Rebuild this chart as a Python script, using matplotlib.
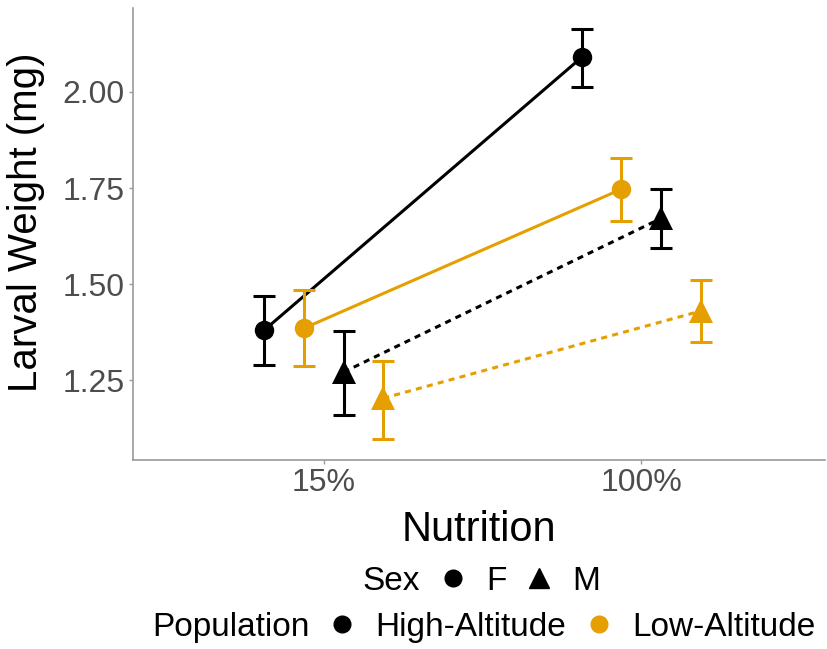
import matplotlib.pyplot as plt
from matplotlib.lines import Line2D

plt.rcParams['font.family'] = ['Liberation Sans', 'DejaVu Sans']

nutrition = ['15%', '100%']
groups = ['High-Altitude F', 'Low-Altitude F', 'High-Altitude M', 'Low-Altitude M']
pops = ['High-Altitude', 'Low-Altitude', 'High-Altitude', 'Low-Altitude']
sexes = ['F', 'F', 'M', 'M']
mean = [[1.380, 2.090], [1.385, 1.747], [1.271, 1.671], [1.203, 1.430]]
lower = [[1.289, 2.014], [1.286, 1.664], [1.159, 1.594], [1.096, 1.349]]
upper = [[1.468, 2.165], [1.484, 1.828], [1.377, 1.748], [1.301, 1.510]]

colors = {'High-Altitude': '#000000', 'Low-Altitude': '#E69F00'}
markers = {'F': 'o', 'M': '^'}
msize = {'F': 14, 'M': 17}
dodge = [-0.1875, -0.0625, 0.0625, 0.1875]

fig = plt.figure(figsize=(8.27, 6.49), dpi=100)
ax = fig.add_axes([0.161, 0.291, 0.837, 0.697])

for i in range(4):
    xs = [1 + dodge[i], 2 + dodge[i]]
    c = colors[pops[i]]
    yerr = [[m - l for m, l in zip(mean[i], lower[i])],
            [u - m for m, u in zip(mean[i], upper[i])]]
    ln, = ax.plot(xs, mean[i], color=c, lw=2.2, zorder=2)
    if sexes[i] == 'M':
        ln.set_dashes((2.0, 1.7))
    ax.errorbar(xs, mean[i], yerr=yerr, fmt='none', ecolor=c, elinewidth=2.2,
                capsize=8, capthick=2.2, zorder=3)
    ax.plot(xs, mean[i], linestyle='none', marker=markers[sexes[i]],
            markersize=msize[sexes[i]], color=c, markeredgewidth=0, zorder=4)

ax.set_xlim(0.4, 2.58)
ax.set_ylim(1.042, 2.219)
ax.set_xticks([1, 2])
ax.set_xticklabels(nutrition)
ax.set_yticks([1.25, 1.5, 1.75, 2.0])
ax.set_yticklabels(['1.25', '1.50', '1.75', '2.00'])
for s in ['top', 'right']:
    ax.spines[s].set_visible(False)
for s in ['left', 'bottom']:
    ax.spines[s].set_color('#9A9A9A')
    ax.spines[s].set_linewidth(1.2)
ax.tick_params(colors='#9A9A9A', length=3, width=1, labelsize=23, labelcolor='#4D4D4D', pad=3)
ax.set_xlabel('Nutrition', fontsize=30, labelpad=8)
ax.set_ylabel('Larval Weight (mg)', fontsize=29)
ax.yaxis.set_label_coords(-0.128, 0.525)

blank = Line2D([], [], linestyle='none')
sex_handles = [blank,
               Line2D([], [], linestyle='none', marker='o', color='k', markersize=12),
               Line2D([], [], linestyle='none', marker='^', color='k', markersize=15)]
leg1 = fig.legend(sex_handles, ['Sex', 'F', 'M'], loc='center', bbox_to_anchor=(0.556, 0.104),
                  ncol=3, frameon=False, fontsize=24, handlelength=0.6, handletextpad=0.69,
                  columnspacing=0.69)
pop_handles = [blank,
               Line2D([], [], linestyle='none', marker='o', color=colors['High-Altitude'], markersize=12),
               Line2D([], [], linestyle='none', marker='o', color=colors['Low-Altitude'], markersize=12)]
leg2 = fig.legend(pop_handles, ['Population', 'High-Altitude', 'Low-Altitude'], loc='center',
                  bbox_to_anchor=(0.559, 0.033), ncol=3, frameon=False, fontsize=24,
                  handlelength=0.6, handletextpad=0.69, columnspacing=0.69)

fig.savefig('out.png', dpi=100)
